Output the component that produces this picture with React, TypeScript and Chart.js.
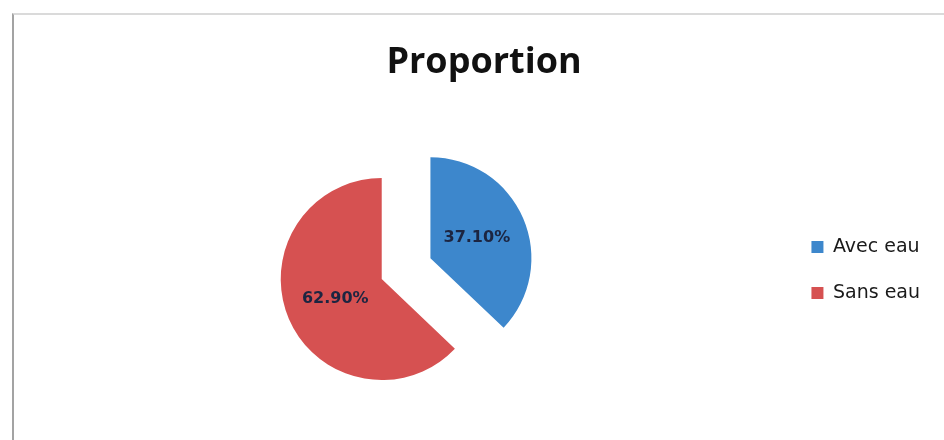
import React, { useEffect, useRef } from 'react';
import { Chart, registerables, layouts } from 'chart.js';

Chart.register(...registerables);

// ---- data ----
const categories: string[] = ['Avec eau', 'Sans eau'];
const proportions: number[] = [37.1, 62.9];
const sliceColors: string[] = ['#3d87cc', '#d65151'];
const chartTitle = 'Proportion';

// ---- plugins ----
// rigidly pulls exploded slices out along their bisector
const explodePlugin = {
  id: 'explodeSlices',
  afterDatasetsUpdate(chart: any) {
    chart.data.datasets.forEach((ds: any, di: number) => {
      const meta = chart.getDatasetMeta(di);
      const dist: number[] = ds.explode || [];
      meta.data.forEach((arc: any, i: number) => {
        const d = dist[i] || 0;
        if (!d) return;
        const mid = (arc.startAngle + arc.endAngle) / 2;
        arc.x += Math.cos(mid) * d;
        arc.y += Math.sin(mid) * d;
      });
    });
  },
};

const valueLabels = {
  id: 'valueLabels',
  afterDatasetsDraw(chart: any) {
    const ctx = chart.ctx;
    const meta = chart.getDatasetMeta(0);
    ctx.save();
    ctx.font = "bold 16px 'DejaVu Sans', sans-serif";
    ctx.fillStyle = '#1c2541';
    ctx.textAlign = 'center';
    ctx.textBaseline = 'middle';
    meta.data.forEach((arc: any, i: number) => {
      const p = arc.tooltipPosition();
      const v = chart.data.datasets[0].data[i] as number;
      ctx.fillText(v.toFixed(2) + '%', p.x, p.y);
    });
    ctx.restore();
  },
};

const SPACER_WIDTH = 59;
const rightSpacer = {
  id: 'rightSpacer',
  beforeInit(chart: any) {
    const box: any = {
      position: 'right',
      weight: 2000,
      fullSize: true,
      options: {},
      left: 0,
      top: 0,
      right: 0,
      bottom: 0,
      width: 0,
      height: 0,
      isHorizontal: () => false,
      update(_maxWidth: number, maxHeight: number) {
        box.width = SPACER_WIDTH;
        box.height = maxHeight;
      },
      draw() {},
    };
    layouts.addBox(chart, box);
  },
};

const CANVAS_LEFT = -21;
const CANVAS_W = 1010;
const CANVAS_H = 440;

export default function App() {
  const ref = useRef<HTMLCanvasElement | null>(null);

  useEffect(() => {
    if (!ref.current) return;
    const chart = new Chart(ref.current, {
      type: 'pie',
      data: {
        labels: categories,
        datasets: [
          {
            data: proportions,
            backgroundColor: sliceColors,
            borderWidth: 0,
            hoverOffset: 0,
            radius: 101,
            explode: [53, 0],
          } as any,
        ],
      },
      options: {
        animation: false,
        responsive: false,
        events: [],
        layout: { padding: 0 },
        plugins: {
          tooltip: { enabled: false },
          title: {
            display: true,
            text: chartTitle,
            color: '#111111',
            font: { family: "'Open Sans', sans-serif", size: 36, weight: 'bold', lineHeight: 1.2 },
            padding: { top: 41, bottom: 34 },
          },
          legend: {
            display: true,
            position: 'right',
            align: 'center',
            title: { display: true, text: '', padding: { top: 85.6, bottom: 0 } },
            labels: {
              boxWidth: 12,
              boxHeight: 12,
              padding: 27,
              color: '#1a1a1a',
              font: { family: "'DejaVu Sans', sans-serif", size: 19 },
            },
          },
        },
      } as any,
      plugins: [explodePlugin, valueLabels, rightSpacer],
    });
    return () => chart.destroy();
  }, []);

  return (
    <div style={{ position: 'fixed', left: 0, top: 0, width: 944, height: 440, overflow: 'hidden', background: '#fff' }}>
      <div
        style={{
          position: 'absolute',
          left: 12,
          top: 13,
          width: 940,
          height: 440,
          borderLeft: '2px solid #a3a3a3',
          borderTop: '2px solid #dadada',
        }}
      />
      <canvas
        ref={ref}
        width={CANVAS_W}
        height={CANVAS_H}
        style={{ position: 'absolute', left: CANVAS_LEFT, top: 0 }}
      />
    </div>
  );
}
